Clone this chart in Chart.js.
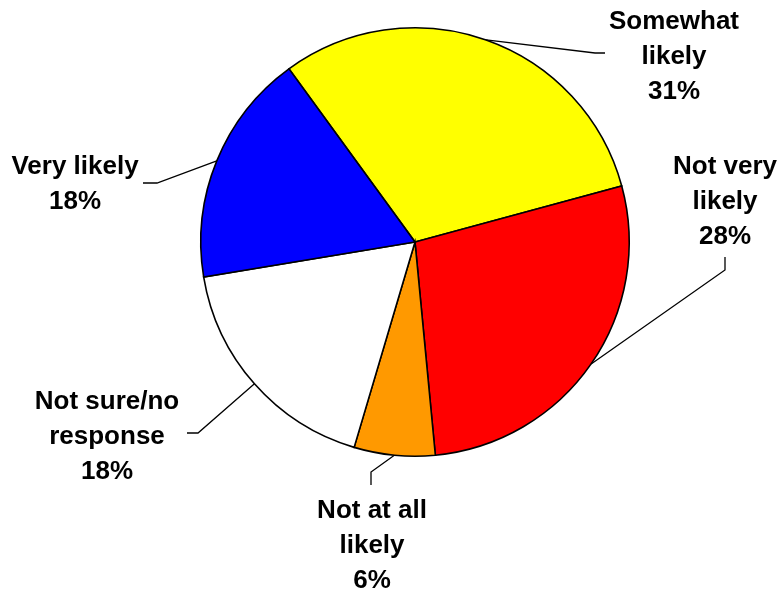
<!DOCTYPE html>
<html>
<head>
<meta charset="utf-8">
<script src="https://cdn.jsdelivr.net/npm/chart.js@4.4.0/dist/chart.umd.min.js"></script>
<style>
  html, body { margin: 0; padding: 0; background: #fff; }
  #wrap { width: 780px; height: 592px; }
</style>
</head>
<body>
<div id="wrap"><canvas id="chart" width="780" height="592"></canvas></div>
<script>
// slices go clockwise, starting from the blue/yellow edge
const categories = ['Somewhat likely', 'Not very likely', 'Not at all likely', 'Not sure/no response', 'Very likely'];
const shares = [30.8, 27.7, 6.1, 17.8, 17.6];
const pctLabels = ['31%', '28%', '6%', '18%', '18%'];
const labelLines = [['Somewhat', 'likely'], ['Not very', 'likely'], ['Not at all', 'likely'], ['Not sure/no', 'response'], ['Very likely']];
const colors = ['#FFFF00', '#FF0000', '#FF9900', '#FFFFFF', '#0000FF'];

// where each label sits and how its leader bends (layout only)
const labelPos = [
  { x: 674, y: 22, bend: [595, 53], end: [605, 53] },
  { x: 725, y: 167, bend: [725, 270], end: [725, 257] },
  { x: 372, y: 511, bend: [371, 472], end: [371, 485] },
  { x: 107, y: 402, bend: [198, 433], end: [187, 433] },
  { x: 75, y: 167, bend: [157, 183], end: [143, 183] },
];
const lineGap = 35;

const leaderLabels = {
  id: 'leaderLabels',
  afterDraw(chart) {
    const ctx = chart.ctx;
    const arcs = chart.getDatasetMeta(0).data;
    ctx.save();
    arcs.forEach((arc, i) => {
      const p = labelPos[i];
      const mid = (arc.startAngle + arc.endAngle) / 2;
      const sx = arc.x + Math.cos(mid) * arc.outerRadius;
      const sy = arc.y + Math.sin(mid) * arc.outerRadius;
      ctx.beginPath();
      ctx.strokeStyle = '#000';
      ctx.lineWidth = 1.3;
      ctx.moveTo(sx, sy);
      ctx.lineTo(p.bend[0], p.bend[1]);
      ctx.lineTo(p.end[0], p.end[1]);
      ctx.stroke();

      ctx.fillStyle = '#000';
      ctx.font = 'bold 26px "Liberation Sans", Arial, sans-serif';
      ctx.textAlign = 'center';
      ctx.textBaseline = 'middle';
      const lines = labelLines[i].concat([pctLabels[i]]);
      lines.forEach((t, j) => ctx.fillText(t, p.x, p.y + j * lineGap));
    });
    ctx.restore();
  }
};

new Chart(document.getElementById('chart'), {
  type: 'pie',
  data: {
    labels: categories,
    datasets: [{
      data: shares,
      backgroundColor: colors,
      borderColor: '#000',
      borderWidth: 1.6,
      borderJoinStyle: 'miter',
    }]
  },
  options: {
    responsive: false,
    animation: false,
    rotation: -36.05,
    layout: { padding: { left: 200, right: 150, top: 27, bottom: 135 } },
    plugins: {
      legend: { display: false },
      tooltip: { enabled: false },
    },
  },
  plugins: [leaderLabels],
});
</script>
</body>
</html>
